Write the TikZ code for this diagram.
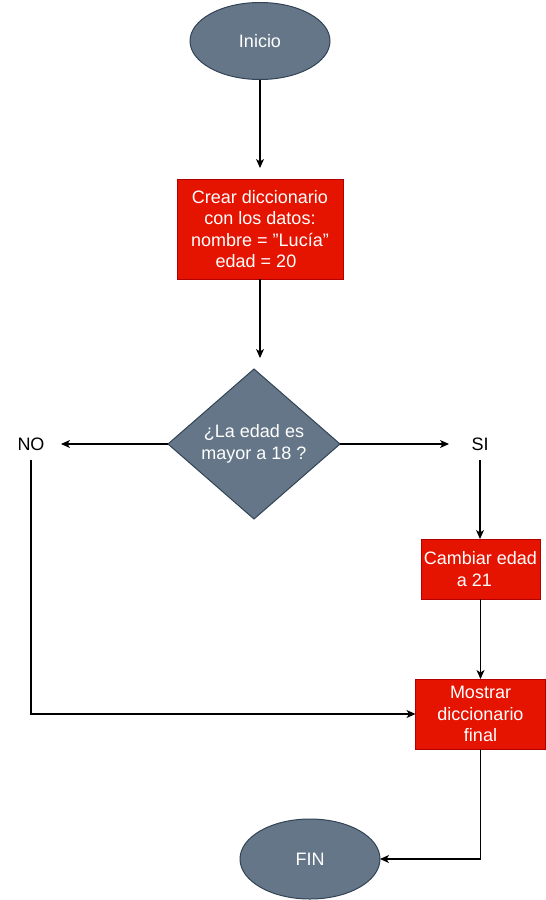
\documentclass[tikz,border=0pt]{standalone}
\usepackage{fontspec}
\setmainfont{Liberation Sans}
\usetikzlibrary{shapes.geometric,arrows.meta}
\definecolor{slate}{HTML}{647687}
\definecolor{slateline}{HTML}{314354}
\definecolor{redfill}{HTML}{E51400}
\definecolor{redline}{HTML}{B20000}
\tikzset{
  every node/.style={font=\fontsize{18pt}{21.6pt}\selectfont, inner sep=0pt, outer sep=0pt},
  term/.style={ellipse, draw=slateline, fill=slate, text=white, line width=1pt},
  procbox/.style={rectangle, draw=redline, fill=redfill, text=white, line width=1pt, align=center},
  decision/.style={diamond, draw=slateline, fill=slate, text=white, line width=1pt, align=center},
  plainlabel/.style={text=black, align=center},
  conn/.style={draw=black, line width=1.1pt, -{Stealth[length=9pt,width=8pt,inset=2.5pt]}}
}
\begin{document}
\begin{tikzpicture}[x=1pt,y=-1pt]
\useasboundingbox (0,0) rectangle (546,900);
\node[term, minimum width=140pt, minimum height=77pt] (inicio) at (260,41) {Inicio};
\node[procbox, minimum width=166pt, minimum height=100pt] (crear) at (260,229)
  {Crear diccionario\\con los datos:\hspace*{12pt}\\ nombre = "Lucía"\\edad = 20\hspace*{8pt}};
\node[decision, minimum width=172pt, minimum height=150pt, aspect=1.15] (dec) at (254,444)
  {¿La edad es\\mayor a 18 ?};
\node[plainlabel, minimum width=60pt, minimum height=32pt] (no) at (31,444) {NO};
\node[plainlabel, minimum width=62pt, minimum height=32pt] (si) at (480,444) {SI};
\node[procbox, minimum width=119pt, minimum height=60pt] (cambiar) at (480.5,569)
  {Cambiar edad\\a 21\hspace*{12pt}};
\node[procbox, minimum width=130pt, minimum height=70pt] (mostrar) at (480.5,714)
  {Mostrar\\diccionario\\final};
\node[term, minimum width=140pt, minimum height=80pt] (fin) at (310,859) {FIN};
\coordinate (endone) at (260,168);
\coordinate (endtwo) at (260,358);

\draw[conn] (inicio.south) -- (endone);
\draw[conn] (crear.south) -- (endtwo);
\draw[conn] (dec.west) -- (no.east);
\draw[conn] (dec.east) -- (si.west);
\draw[conn] (si.south) -- (si.south |- cambiar.north);
\draw[conn] (cambiar.south) -- (cambiar.south |- mostrar.north);
\draw[conn] (no.south) |- (mostrar.west);
\draw[conn] (mostrar.south) |- (fin.east);
\end{tikzpicture}
\end{document}
